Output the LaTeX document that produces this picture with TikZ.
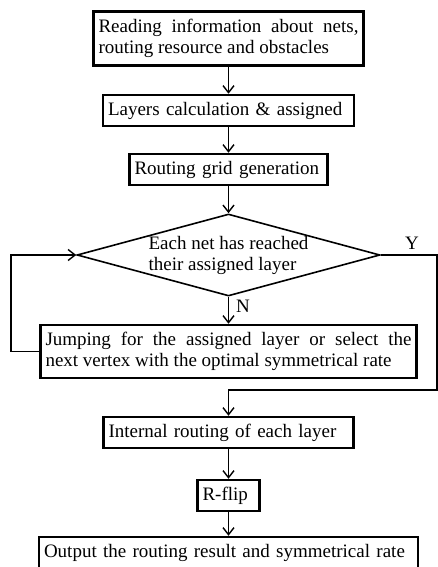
\documentclass[tikz,border=0pt]{standalone}
\usepackage{fontspec}
\setmainfont{Liberation Serif}
\usetikzlibrary{shapes.geometric, arrows.meta, positioning}
\newcommand{\flowfont}{\fontsize{19}{21}\selectfont}
\tikzset{
    base/.style={draw, rectangle, line width=2.5pt, inner xsep=5pt, inner ysep=2pt, minimum height=31pt, font=\flowfont, align=left},
    process/.style={base, text width=#1},
    decision/.style={draw, diamond, aspect=3.7, minimum width=303pt, minimum height=82pt, inner sep=0pt, line width=1.6pt, font=\flowfont, align=left},
    arrow/.style={-{Straight Barb[length=7pt, width=11pt]}, line width=1.4pt},
    tag/.style={font=\flowfont, inner sep=0pt}
}
\begin{document}
\begin{tikzpicture}[x=1pt, y=-1pt]
        % Canvas
        \useasboundingbox (0,0) rectangle (438,567);
        \clip (0,0) rectangle (438,567);

        % Main column of steps
        \node[process=260pt, align=justify, minimum height=54pt] (read) at (228.5,38.5) {Reading information about nets,\linebreak routing resource and obstacles};
        \node[process=241pt] (layers) at (228.5,110.5) {Layers calculation \& assigned};
        \node[process=188pt] (grid) at (228.5,169.5) {Routing grid generation};
        \node[decision] (check) at (228.5,255) {Each net has reached\\their assigned layer};
        \node[process=366pt, align=justify, minimum height=53pt] (jump) at (228.5,351.5) {Jumping for the assigned layer or select the\linebreak next vertex with the optimal symmetrical rate};
        \node[process=240pt] (inner) at (228.5,432.5) {Internal routing of each layer};
        \node[process=52pt] (flip) at (228.5,495.5) {R-flip};
        \node[process=369pt, minimum height=32pt] (out) at (228.5,553) {Output the routing result and symmetrical rate};

        % Branch labels
        \node[tag] (ylab) at (412,243) {Y};
        \node[tag] (nlab) at (243,306) {N};

        % Loop corners
        \coordinate (loopx) at (11,0);
        \coordinate (ycorner) at (437,390);

        % Straight connectors
        \draw[arrow] (read) -- (layers);
        \draw[arrow] (layers) -- (grid);
        \draw[arrow] (grid) -- (check);
        \draw[arrow] (check) -- (jump);
        \draw[arrow] (inner) -- (flip);
        \draw[arrow] (flip) -- (out);

        % Back loop (N) and exit (Y)
        \draw[arrow] (jump.west) -- (jump.west -| loopx) |- (check.west);
        \draw[arrow] (check.east) -| (ycorner) -| (inner.north);
    \end{tikzpicture}
\end{document}
